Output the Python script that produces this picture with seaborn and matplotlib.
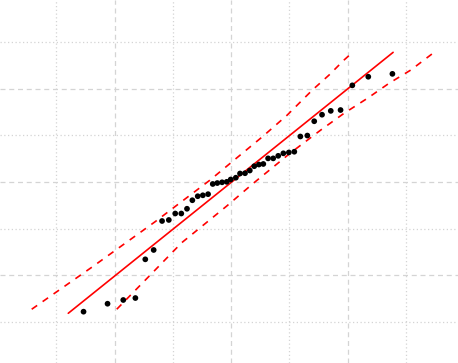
import matplotlib
matplotlib.use("Agg")
import matplotlib.pyplot as plt
from matplotlib.ticker import MultipleLocator
import seaborn as sns
import pandas as pd

# Ordered sample vs theoretical quantiles
theoretical = [-1.266, -1.060, -0.925, -0.821, -0.736, -0.664, -0.592, -0.534, -0.479, -0.427,
               -0.378, -0.332, -0.286, -0.242, -0.197, -0.157, -0.118, -0.077, -0.037, -0.003,
               0.041, 0.077, 0.120, 0.161, 0.199, 0.239, 0.277, 0.318, 0.362, 0.405,
               0.449, 0.496, 0.543, 0.595, 0.655, 0.714, 0.781, 0.856, 0.940, 1.041,
               1.178, 1.385]
sample = [-1.387, -1.302, -1.262, -1.241, -0.827, -0.727, -0.417, -0.406, -0.337, -0.337,
          -0.286, -0.195, -0.152, -0.142, -0.130, -0.021, -0.011, -0.003, 0.002, 0.027,
          0.046, 0.091, 0.094, 0.123, 0.169, 0.187, 0.193, 0.253, 0.253, 0.280,
          0.307, 0.316, 0.324, 0.487, 0.497, 0.650, 0.720, 0.761, 0.770, 1.034,
          1.126, 1.157]

# Reference line
line_x = [-1.397, 1.391]
line_y = [-1.404, 1.387]

# Confidence envelope
upper_x = [-1.711, -1.185, -0.652, -0.395, -0.180, 0.020, 0.269,
           0.483, 0.698, 0.841, 0.970, 1.043]
upper_y = [-1.361, -0.903, -0.425, -0.182, 0.021, 0.228, 0.484,
           0.717, 0.984, 1.144, 1.305, 1.387]
lower_x = [-0.981, -0.695, -0.423, -0.037, 0.191, 0.506, 0.770, 0.970, 1.170,
           1.356, 1.543, 1.743]
lower_y = [-1.361, -0.997, -0.649, -0.257, -0.014, 0.307, 0.556, 0.735, 0.895,
           1.056, 1.198, 1.387]

sns.set_style("white")
fig = plt.figure(figsize=(4.58, 3.63), dpi=100)
ax = fig.add_axes([0, 0, 1, 1])

ax.set_axisbelow(True)
ax.xaxis.set_major_locator(MultipleLocator(1.0))
ax.xaxis.set_minor_locator(MultipleLocator(0.5))
ax.yaxis.set_major_locator(MultipleLocator(1.0))
ax.yaxis.set_minor_locator(MultipleLocator(0.5))
ax.grid(True, which="major", color="#d4d4d4", linestyle=(0, (4, 3)), linewidth=0.9)
ax.grid(True, which="minor", color="#d4d4d4", linestyle=(0, (1, 2)), linewidth=0.9)

df_pts = pd.DataFrame({"x": theoretical, "y": sample})
sns.scatterplot(data=df_pts, x="x", y="y", ax=ax, color="black", s=17,
                edgecolor="none", zorder=3)

sns.lineplot(x=line_x, y=line_y, ax=ax, color="red", linewidth=1.2, sort=False,
             estimator=None, zorder=2)
sns.lineplot(x=upper_x, y=upper_y, ax=ax, color="red", linewidth=1.2, sort=False,
             estimator=None, zorder=2, dashes=False, linestyle=(0, (4, 4)))
sns.lineplot(x=lower_x, y=lower_y, ax=ax, color="red", linewidth=1.2, sort=False,
             estimator=None, zorder=2, dashes=False, linestyle=(0, (4, 4)))

ax.set_xlim(-1.983, 1.948)
ax.set_ylim(-1.936, 1.947)
ax.set_xlabel("")
ax.set_ylabel("")
ax.tick_params(which="both", length=0, labelbottom=False, labelleft=False)
for s in ax.spines.values():
    s.set_visible(False)

fig.savefig("out.png", dpi=100)
